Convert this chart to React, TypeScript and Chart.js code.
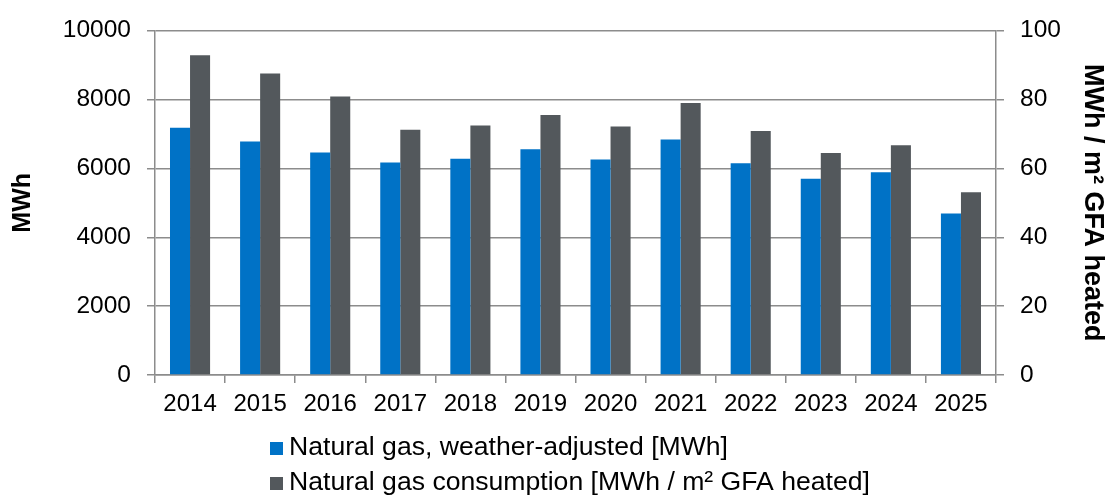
import React, { useEffect, useRef } from "react";
import { Chart, registerables } from "chart.js";

Chart.register(...registerables);

const years = ["2014", "2015", "2016", "2017", "2018", "2019", "2020", "2021", "2022", "2023", "2024", "2025"];
const weatherAdjustedMWh = [7180, 6780, 6460, 6170, 6280, 6560, 6260, 6840, 6150, 5700, 5890, 4690];
const consumptionPerArea = [92.9, 87.6, 80.9, 71.2, 72.5, 75.5, 72.2, 79.0, 70.9, 64.5, 66.7, 53.1];
const leftTicks = [0, 2000, 4000, 6000, 8000, 10000];
const rightTicks = [0, 20, 40, 60, 80, 100];
const seriesLabels = ["Natural gas, weather-adjusted [MWh]", "Natural gas consumption [MWh / m² GFA heated]"];
const leftTitle = "MWh";
const rightTitle = "MWh / m² GFA heated";

const BLUE = "#0072C6";
const GRAY = "#53585C";
const GRID = "#8C8C8C";
const FONT = "'Liberation Sans', Arial, sans-serif";

const legendPlugin = {
  id: "stackedLegend",
  afterDraw(chart: any) {
    const ctx = chart.ctx;
    ctx.save();
    const box = 13;
    const x0 = 270;
    const rowTops = [442, 477];
    ctx.font = `26.6px ${FONT}`;
    ctx.textBaseline = "alphabetic";
    ctx.textAlign = "left";
    chart.data.datasets.forEach((ds: any, i: number) => {
      const top = rowTops[i];
      ctx.fillStyle = ds.backgroundColor;
      ctx.fillRect(x0, top, box, box);
      ctx.fillStyle = "#000";
      ctx.fillText(ds.label, x0 + 19, top + box);
    });
    ctx.restore();
  },
};

export default function App() {
  const ref = useRef<HTMLCanvasElement | null>(null);
  useEffect(() => {
    if (!ref.current) return;
    const plain = (v: any) => String(v);
    const chart = new Chart(ref.current, {
      type: "bar",
      data: {
        labels: years,
        datasets: [
          {
            label: seriesLabels[0],
            data: weatherAdjustedMWh,
            backgroundColor: BLUE,
            yAxisID: "y",
            categoryPercentage: 0.572,
            barPercentage: 1,
          },
          {
            label: seriesLabels[1],
            data: consumptionPerArea,
            backgroundColor: GRAY,
            yAxisID: "y1",
            categoryPercentage: 0.572,
            barPercentage: 1,
          },
        ],
      },
      plugins: [legendPlugin],
      options: {
        responsive: false,
        animation: false,
        layout: { padding: { top: 25, bottom: 70, left: 0, right: 0 } },
        plugins: {
          legend: { display: false },
          tooltip: { enabled: false },
          title: { display: false },
        },
        scales: {
          x: {
            afterFit: (s: any) => { s.height = 55; },
            grid: { offset: true, drawOnChartArea: false, drawTicks: true, tickLength: 8, color: GRID, lineWidth: 1.5 },
            border: { display: true, color: GRID, width: 1.5 },
            ticks: { color: "#000", font: { size: 24, family: FONT }, padding: 7, maxRotation: 0, autoSkip: false },
          },
          y: {
            position: "left",
            min: 0,
            max: 10000,
            afterBuildTicks: (s: any) => { s.ticks = leftTicks.map((v) => ({ value: v })); },
            afterFit: (s: any) => { s.width = 155; },
            grid: { color: GRID, lineWidth: 1.5, tickLength: 8, drawTicks: true },
            border: { display: true, color: GRID, width: 1.5 },
            ticks: { color: "#000", font: { size: 24.5, family: FONT }, padding: 16, callback: plain },
            title: { display: true, text: leftTitle, color: "#000", font: { size: 25, weight: "bold", family: FONT }, padding: { top: 8, bottom: 0 } },
          },
          y1: {
            position: "right",
            min: 0,
            max: 100,
            afterBuildTicks: (s: any) => { s.ticks = rightTicks.map((v) => ({ value: v })); },
            afterFit: (s: any) => { s.width = 114; },
            grid: { drawOnChartArea: false, color: GRID, lineWidth: 1.5, tickLength: 8, drawTicks: true },
            border: { display: true, color: GRID, width: 1.5 },
            ticks: { color: "#000", font: { size: 24.5, family: FONT }, padding: 16, callback: plain },
            title: { display: true, text: rightTitle, color: "#000", font: { size: 27, weight: "bold", family: FONT }, padding: { top: 1, bottom: 0 } },
          },
        },
      },
    } as any);
    return () => chart.destroy();
  }, []);
  return (
    <div style={{ position: "absolute", left: 0, top: 0, width: 1110, height: 500, background: "#fff" }}>
      <canvas ref={ref} width={1110} height={500} style={{ display: "block" }} />
    </div>
  );
}
